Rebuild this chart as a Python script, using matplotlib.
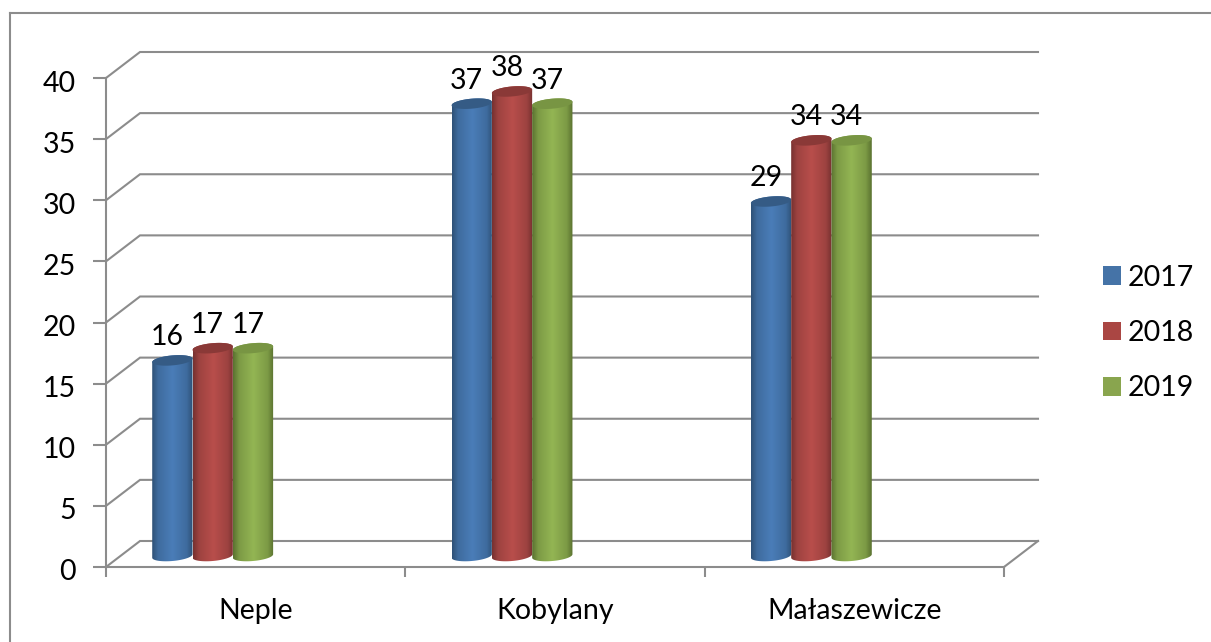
import numpy as np
import matplotlib
matplotlib.use("Agg")
import matplotlib.pyplot as plt
from matplotlib.colors import LinearSegmentedColormap
from matplotlib.patches import Polygon, Patch
from matplotlib.transforms import ScaledTranslation

categories = ["Neple", "Kobylany", "Małaszewicze"]
series_names = ["2017", "2018", "2019"]
values_2017 = [16, 37, 29]
values_2018 = [17, 38, 34]
values_2019 = [17, 37, 34]
y_ticks = [0, 5, 10, 15, 20, 25, 30, 35, 40]

W, H = 1211, 642
plt.rcParams["font.family"] = ["Lato", "DejaVu Sans"]
FS = 20.5
GRID = "#8c8c8c"
LW = 1.5

fig = plt.figure(figsize=(W / 100, H / 100), dpi=100, facecolor="white")
L, R, B, T = 106, 1004, 567, 78
ax = fig.add_axes([L / W, 1 - B / H, (R - L) / W, (B - T) / H])
ax.set_facecolor("none")
ax.set_xlim(0, 3)
ax.set_ylim(0, 40)
px_x = 3 / (R - L)     # data units per pixel
px_y = 40 / (B - T)

# Outer chart frame: only top and left edges are visible
fig.add_artist(plt.Line2D([10 / W, 1], [1 - 13 / H, 1 - 13 / H], color=GRID, lw=LW, transform=fig.transFigure))
fig.add_artist(plt.Line2D([10 / W, 10 / W], [0, 1 - 13 / H], color=GRID, lw=LW, transform=fig.transFigure))

# Depth walls and gridlines
dx, dy = 34 * px_x, 26 * px_y
for t in y_ticks:
    ax.plot([0, dx, 3 + dx], [t, t + dy, t + dy], color=GRID, lw=LW, clip_on=False, zorder=1,
            solid_joinstyle="miter")
ax.plot([3, 3 + dx], [0, dy], color=GRID, lw=LW, clip_on=False, zorder=1)

for s in ("top", "right"):
    ax.spines[s].set_visible(False)
for s in ("left", "bottom"):
    ax.spines[s].set_color(GRID)
    ax.spines[s].set_linewidth(LW)
    ax.spines[s].set_zorder(1.5)

ax.set_yticks(y_ticks)
ax.set_xticks([0, 1, 2, 3])
ax.set_xticklabels([])
ax.set_xticks([0.5, 1.5, 2.5], minor=True)
ax.set_xticklabels(categories, minor=True, fontsize=FS)
ax.tick_params(axis="y", length=13 * .72, width=LW, color=GRID, labelsize=FS, pad=17 * .72)
ax.tick_params(axis="x", which="major", length=10 * .72, width=LW, color=GRID)
ax.tick_params(axis="x", which="minor", length=0, pad=31 * .72)
shift_down = ScaledTranslation(0, -3 / 100, fig.dpi_scale_trans)
for lab in ax.get_yticklabels():
    lab.set_transform(lab.get_transform() + shift_down)

# Cylinders
series = [values_2017, values_2018, values_2019]
palette = [
    ("#2e5177", "#4a7db8", "#355b85", "#4573a7"),
    ("#763130", "#b84e4b", "#8a3937", "#aa4643"),
    ("#5a7230", "#93b553", "#789543", "#89a54e"),
]
bar_w = 40.3 * px_x
group_shift = -43 * px_x
base = 11 * px_y
a_px, b_px, tilt = bar_w / px_x / 2, 5.0, 0.085
t_low = np.linspace(np.pi, 2 * np.pi, 40)
t_all = np.linspace(0, 2 * np.pi, 80)


def ell(cx, cy, t):
    ex = a_px * np.cos(t)
    ey = b_px * np.sin(t) + tilt * ex
    return cx + ex * px_x, cy + ey * px_y


grad = np.interp(np.linspace(0, 1, 128), [0, .15, .5, .85, 1], [0, .6, 1, .6, 0])[None, :]
for j, vals in enumerate(series):
    dark, light, top, _ = palette[j]
    cmap = LinearSegmentedColormap.from_list(f"c{j}", [dark, light])
    for i, v in enumerate(vals):
        cx = i + 0.5 + group_shift + (j - 1) * bar_w
        xb, yb = ell(cx, base, t_low)
        xt, yt = ell(cx, base + v, t_low - np.pi)
        xy = np.column_stack([np.r_[xb, xt], np.r_[yb, yt]])
        patch = Polygon(xy, closed=True, transform=ax.transData, fc="none", ec="none")
        ax.add_patch(patch)
        patch.set_clip_on(False)
        im = ax.imshow(grad, cmap=cmap, vmin=0, vmax=1, aspect="auto", interpolation="bilinear",
                       extent=[cx - bar_w / 2, cx + bar_w / 2, base - 1, base + v + 1],
                       zorder=3 + j, clip_on=True)
        im.set_clip_path(patch)
        xe, ye = ell(cx, base + v, t_all)
        ax.add_patch(Polygon(np.column_stack([xe, ye]), closed=True, fc=top, ec="none",
                             zorder=3 + j, clip_on=False))
        ax.annotate(str(v), (cx, base + v), xytext=(-5, 23), textcoords="offset pixels",
                    ha="center", va="center", fontsize=FS, color="black", zorder=10,
                    annotation_clip=False)

ax.set_xlim(0, 3)
ax.set_ylim(0, 40)

handles = [Patch(fc=p[3], ec="none") for p in palette]
fig.legend(handles, series_names, loc="center left", bbox_to_anchor=(1103 / W, 1 - 333 / H),
           frameon=False, fontsize=FS, handlelength=0.63, handleheight=0.63,
           handletextpad=0.22, labelspacing=1.03, borderpad=0, borderaxespad=0)

fig.savefig("out.png", dpi=100, facecolor="white")
